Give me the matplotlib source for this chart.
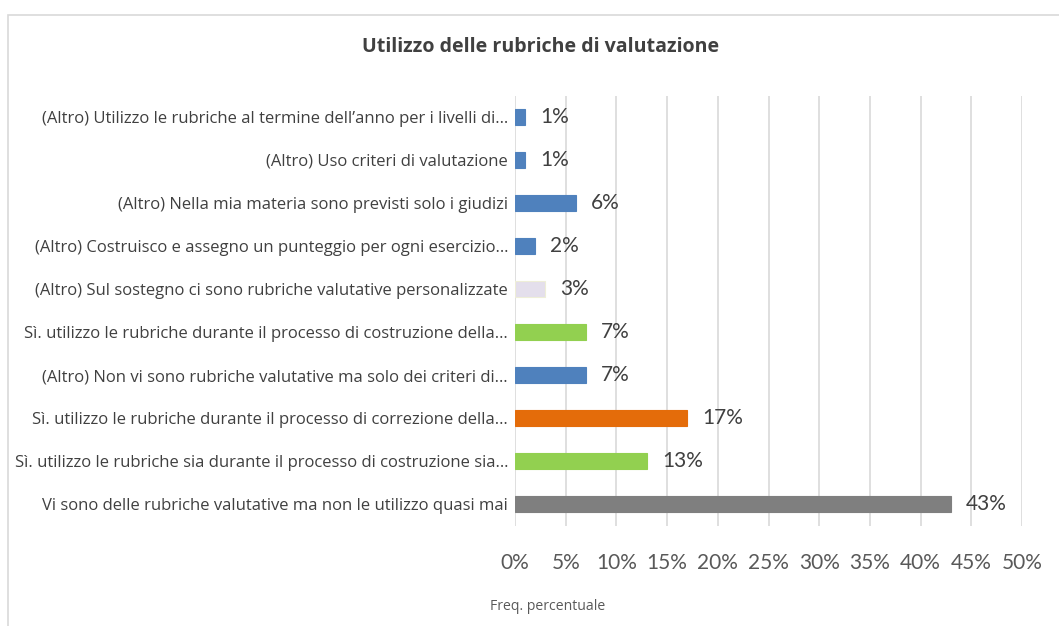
import matplotlib.pyplot as plt
from matplotlib.patches import Rectangle

categories = [
    "Vi sono delle rubriche valutative ma non le utilizzo quasi mai",
    "Sì. utilizzo le rubriche sia durante il processo di costruzione sia…",
    "Sì. utilizzo le rubriche durante il processo di correzione della…",
    "(Altro) Non vi sono rubriche valutative ma solo dei criteri di…",
    "Sì. utilizzo le rubriche durante il processo di costruzione della…",
    "(Altro) Sul sostegno ci sono rubriche valutative personalizzate",
    "(Altro) Costruisco e assegno un punteggio per ogni esercizio…",
    "(Altro) Nella mia materia sono previsti solo i giudizi",
    "(Altro) Uso criteri di valutazione",
    "(Altro) Utilizzo le rubriche al termine dell’anno per i livelli di…",
]
values = [43, 13, 17, 7, 7, 3, 2, 6, 1, 1]
colors = ["#7F7F7F", "#92D050", "#E46C0A", "#4F81BD", "#92D050",
          "#E4DFEC", "#4F81BD", "#4F81BD", "#4F81BD", "#4F81BD"]
edgecolors = ["#7F7F7F", "#92D050", "#E46C0A", "#4F81BD", "#92D050",
              "#EEEED8", "#4F81BD", "#4F81BD", "#4F81BD", "#4F81BD"]
xticks = [0, 5, 10, 15, 20, 25, 30, 35, 40, 45, 50]

plt.rcParams['font.family'] = ['Lato', 'DejaVu Sans']
label_font = ['Open Sans', 'DejaVu Sans']

fig = plt.figure(figsize=(10.59, 6.26), dpi=100)
fig.patches.append(Rectangle((8/1059, -0.1), 1.2, 1 - 15/626 + 0.1,
                             transform=fig.transFigure, fill=False,
                             edgecolor="#D9D9D9", linewidth=1.2))

ax = fig.add_axes([515/1059, 1 - 525.5/626, (1022 - 515)/1059, (525.5 - 95.5)/626])
y = list(range(len(categories)))
ax.barh(y, values, height=0.37, color=colors, edgecolor=edgecolors, linewidth=0.8, zorder=3)
for yi, v in zip(y, values):
    ax.text(v + 1.5, yi, f"{v}%", va="center", ha="left", fontsize=15, color="#404040")

ax.set_xlim(0, 50)
ax.set_ylim(-0.5, len(categories) - 0.5)
ax.set_xticks(xticks)
ax.set_xticklabels([f"{t}%" for t in xticks], fontsize=15, color="#595959")
ax.set_yticks(y)
ax.set_yticklabels(categories, fontsize=12, color="#404040", family=label_font)
ax.tick_params(axis='x', length=0, pad=20)
ax.tick_params(axis='y', length=0, pad=5)
ax.grid(axis='x', color="#D9D9D9", linewidth=1.2, zorder=0)
ax.set_axisbelow(True)
for s in ax.spines.values():
    s.set_visible(False)

fig.text(541/1059, 1 - 47/626, "Utilizzo delle rubriche di valutazione",
         ha="center", va="center", fontsize=14.1, fontweight="bold", color="#404040",
         family=label_font)
fig.text(548/1059, 1 - 607/626, "Freq. percentuale", ha="center", va="center",
         fontsize=10.1, color="#595959", family=label_font)

fig.savefig("out.png", dpi=100)
